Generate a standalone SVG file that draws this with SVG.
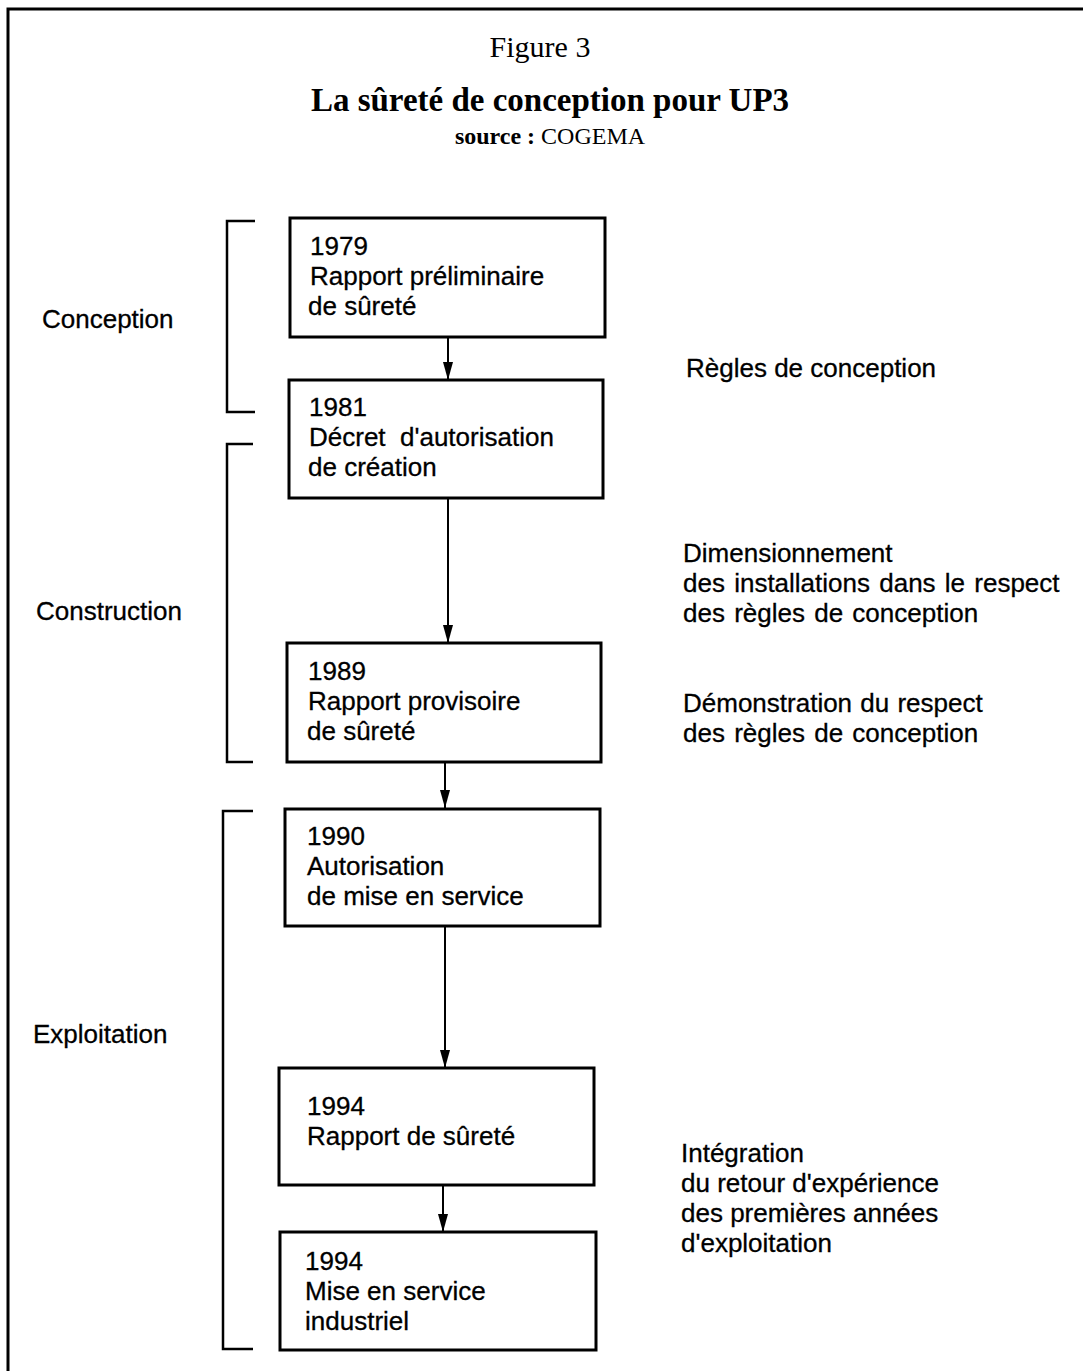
<svg xmlns="http://www.w3.org/2000/svg" width="1083" height="1371" viewBox="0 0 1083 1371">
<defs>
<style>
.frame{fill:none;stroke:#000;stroke-width:3}
.box{fill:#fff;stroke:#000;stroke-width:3}
.br{fill:none;stroke:#000;stroke-width:2.5}
.con{fill:none;stroke:#000;stroke-width:2}
.t{font-family:"Liberation Sans",Arial,sans-serif;font-size:26px;fill:#000;stroke:#000;stroke-width:0.3}
.serif{font-family:"Liberation Serif","Times New Roman",serif;fill:#000}
</style>
<marker id="ah" viewBox="0 0 18 12" refX="18" refY="6" markerWidth="18" markerHeight="12" markerUnits="userSpaceOnUse" orient="auto">
<path d="M0,1 L18,6 L0,11 Z" fill="#000"/>
</marker>
</defs>
<rect width="1083" height="1371" fill="#fff"/>
<g id="frame">
<path class="frame" d="M8,1371 V9 H1083"/>
</g>
<g id="title">
<text class="serif" x="540" y="57" font-size="30" text-anchor="middle">Figure 3</text>
<text class="serif" x="550" y="111" font-size="33" font-weight="bold" text-anchor="middle">La sûreté de conception pour UP3</text>
<text class="serif" x="550" y="144" font-size="24" text-anchor="middle"><tspan font-weight="bold">source :</tspan> COGEMA</text>
</g>
<g id="phases">
<g id="phase-conception">
<path class="br" d="M255,221 H227 V412 H255"/>
<text class="t" x="42" y="328">Conception</text>
</g>
<g id="phase-construction">
<path class="br" d="M253,444 H227 V762 H253"/>
<text class="t" x="36" y="620">Construction</text>
</g>
<g id="phase-exploitation">
<path class="br" d="M253,811 H223 V1349 H253"/>
<text class="t" x="33" y="1043">Exploitation</text>
</g>
</g>
<g id="connectors">
<line class="con" x1="448" y1="337" x2="448" y2="380" marker-end="url(#ah)"/>
<line class="con" x1="448" y1="498" x2="448" y2="643" marker-end="url(#ah)"/>
<line class="con" x1="445" y1="762" x2="445" y2="808" marker-end="url(#ah)"/>
<line class="con" x1="445" y1="926" x2="445" y2="1068" marker-end="url(#ah)"/>
<line class="con" x1="443" y1="1185" x2="443" y2="1232" marker-end="url(#ah)"/>
</g>
<g id="node-1979">
<rect class="box" x="290" y="218" width="315" height="119"/>
<text class="t" x="310" y="255">1979</text>
<text class="t" x="310" y="285">Rapport préliminaire</text>
<text class="t" x="308" y="315">de sûreté</text>
</g>
<g id="node-1981">
<rect class="box" x="289" y="380" width="314" height="118"/>
<text class="t" x="309" y="416">1981</text>
<text class="t" x="309" y="446" xml:space="preserve">Décret  d'autorisation</text>
<text class="t" x="308" y="476">de création</text>
</g>
<g id="node-1989">
<rect class="box" x="287" y="643" width="314" height="119"/>
<text class="t" x="308" y="680">1989</text>
<text class="t" x="308" y="710">Rapport provisoire</text>
<text class="t" x="307" y="740">de sûreté</text>
</g>
<g id="node-1990">
<rect class="box" x="285" y="809" width="315" height="117"/>
<text class="t" x="307" y="845">1990</text>
<text class="t" x="307" y="875">Autorisation</text>
<text class="t" x="307" y="905">de mise en service</text>
</g>
<g id="node-1994a">
<rect class="box" x="279" y="1068" width="315" height="117"/>
<text class="t" x="307" y="1115">1994</text>
<text class="t" x="307" y="1145">Rapport de sûreté</text>
</g>
<g id="node-1994b">
<rect class="box" x="280" y="1232" width="316" height="118"/>
<text class="t" x="305" y="1270">1994</text>
<text class="t" x="305" y="1300">Mise en service</text>
<text class="t" x="305" y="1330">industriel</text>
</g>
<g id="notes">
<text class="t" x="686" y="377">Règles de conception</text>
<text class="t" x="683" y="562">Dimensionnement</text>
<text class="t" x="683" y="592" word-spacing="2">des installations dans le respect</text>
<text class="t" x="683" y="622" word-spacing="2">des règles de conception</text>
<text class="t" x="683" y="712" word-spacing="1">Démonstration du respect</text>
<text class="t" x="683" y="742" word-spacing="2">des règles de conception</text>
<text class="t" x="681" y="1162">Intégration</text>
<text class="t" x="681" y="1192">du retour d'expérience</text>
<text class="t" x="681" y="1222">des premières années</text>
<text class="t" x="681" y="1252">d'exploitation</text>
</g>
</svg>
